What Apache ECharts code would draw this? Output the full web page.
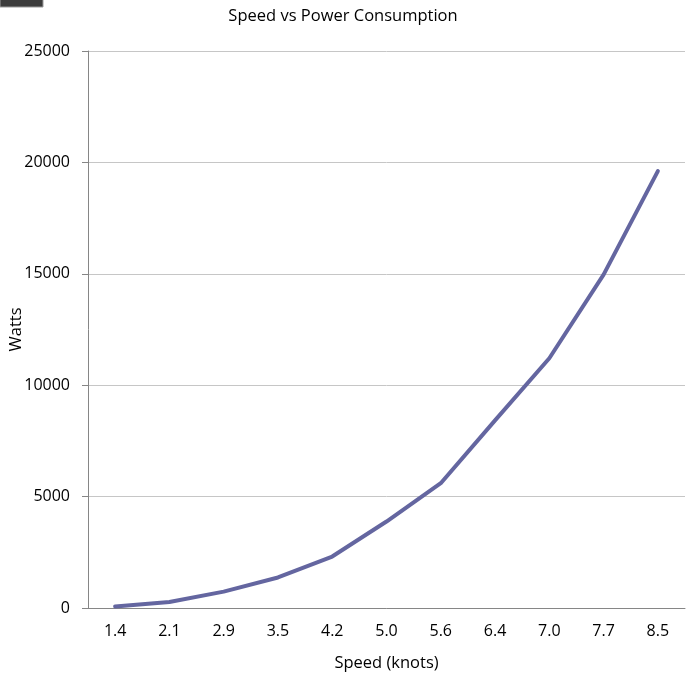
<!DOCTYPE html>
<html>
<head>
<meta charset="utf-8">
<script src="https://cdn.jsdelivr.net/npm/echarts@6/dist/echarts.min.js"></script>
<style>
html,body{margin:0;padding:0;background:#fff;}
#c{width:686px;height:677px;}
</style>
</head>
<body>
<div id="c"></div>
<script>
const speeds = ['1.4','2.1','2.9','3.5','4.2','5.0','5.6','6.4','7.0','7.7','8.5'];
const watts = [70, 270, 735, 1370, 2310, 3880, 5600, 8420, 11210, 14960, 19610];
const yTicks = [0, 5000, 10000, 15000, 20000, 25000];

const font = "'Open Sans', 'Noto Sans', sans-serif";
const chart = echarts.init(document.getElementById('c'), null, {renderer: 'canvas'});
chart.setOption({
  animation: false,
  backgroundColor: '#fff',
  title: {
    text: 'Speed vs Power Consumption',
    left: 'center',
    top: 3,
    textStyle: {fontFamily: font, fontSize: 16.5, fontWeight: 'normal', color: '#000'}
  },
  graphic: [{
    type: 'rect',
    shape: {x: 0, y: -1, width: 43, height: 8},
    style: {fill: '#3c3c3c', stroke: '#9a9a9a', lineWidth: 1}
  }],
  grid: {left: 88, right: 1, top: 51, bottom: 69, containLabel: false, outerBoundsMode: 'none'},
  xAxis: {
    type: 'category',
    data: speeds,
    boundaryGap: true,
    name: 'Speed (knots)',
    nameLocation: 'middle',
    nameGap: 47,
    nameMoveOverlap: false,
    nameTextStyle: {fontFamily: font, fontSize: 16.5, color: '#000'},
    axisLine: {lineStyle: {color: '#868686', width: 1}},
    axisTick: {show: false},
    axisLabel: {fontFamily: font, fontSize: 16, color: '#000', margin: 15}
  },
  yAxis: {
    type: 'value',
    min: yTicks[0],
    max: yTicks[yTicks.length - 1],
    interval: 5000,
    name: 'Watts',
    nameLocation: 'middle',
    nameGap: 63,
    nameRotate: 90,
    nameMoveOverlap: false,
    nameTextStyle: {fontFamily: font, fontSize: 16.5, color: '#000'},
    axisLine: {show: true, lineStyle: {color: '#868686', width: 1}},
    axisTick: {show: true, inside: false, length: 6, lineStyle: {color: '#868686'}},
    axisLabel: {fontFamily: font, fontSize: 16, color: '#000', margin: 18, formatter: v => String(v)},
    splitLine: {show: true, lineStyle: {color: '#c6c6c6', width: 1}}
  },
  series: [{
    type: 'line',
    data: watts,
    symbol: 'none',
    smooth: false,
    lineStyle: {color: '#6466a0', width: 4, cap: 'round', join: 'round'}
  }]
});
</script>
</body>
</html>
